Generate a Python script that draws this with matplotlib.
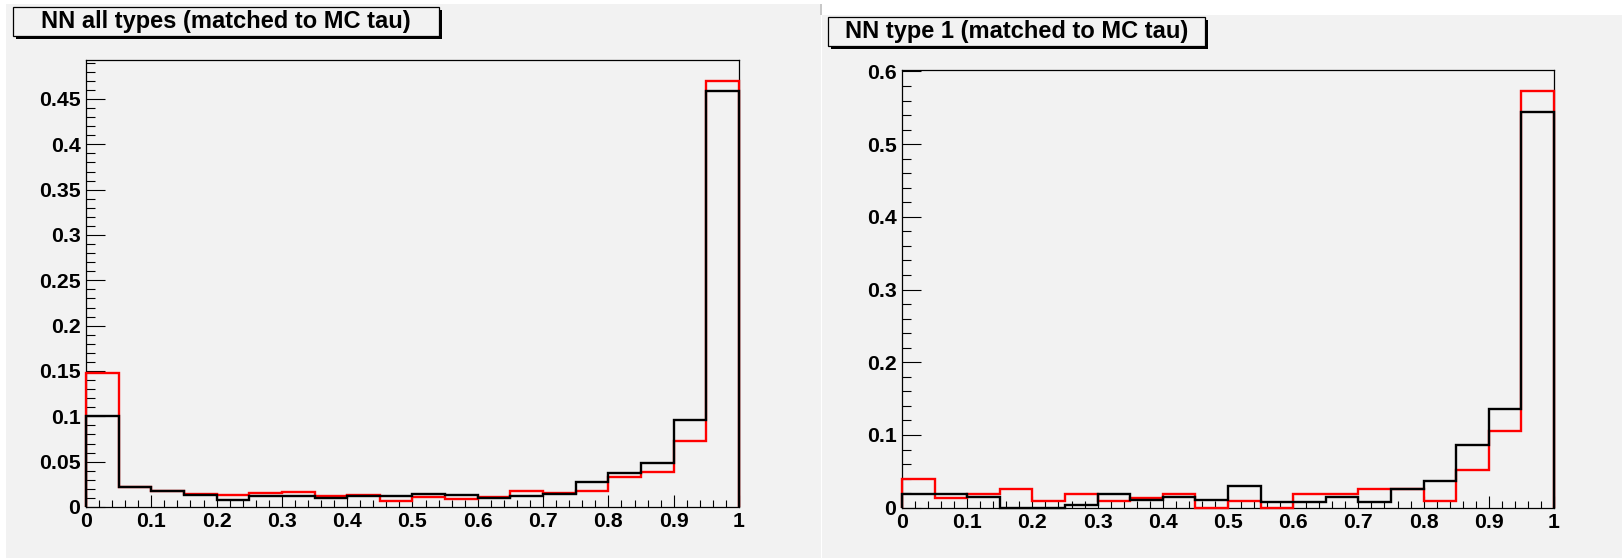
import numpy as np
import matplotlib
matplotlib.use("Agg")
import matplotlib.pyplot as plt
from matplotlib.patches import Rectangle
from matplotlib.ticker import MultipleLocator, FixedLocator

plt.rcParams['font.family'] = ['Liberation Sans', 'DejaVu Sans']
plt.rcParams['font.weight'] = 'bold'

# ---- data ----
bin_edges = np.linspace(0.0, 1.0, 21)

left_title = "NN all types (matched to MC tau)"
left_red = [0.148, 0.022, 0.0176, 0.0143, 0.0132, 0.0158, 0.0169, 0.0121, 0.0132, 0.0063,
            0.0114, 0.0088, 0.0114, 0.0176, 0.0151, 0.0176, 0.0331, 0.0390, 0.0728, 0.470]
left_black = [0.100, 0.0224, 0.0173, 0.0132, 0.0074, 0.0118, 0.0118, 0.0103, 0.0121, 0.0121,
              0.0147, 0.0134, 0.0096, 0.0118, 0.0147, 0.0279, 0.0378, 0.0489, 0.0959, 0.459]
left_yticks = [0, 0.05, 0.1, 0.15, 0.2, 0.25, 0.3, 0.35, 0.4, 0.45]
left_ylabels = ["0", "0.05", "0.1", "0.15", "0.2", "0.25", "0.3", "0.35", "0.4", "0.45"]

right_title = "NN type 1 (matched to MC tau)"
right_red = [0.0395, 0.0129, 0.0193, 0.0261, 0.0096, 0.0193, 0.0096, 0.0129, 0.0193, 0.0,
             0.0096, 0.0, 0.0193, 0.0193, 0.0261, 0.0261, 0.0096, 0.0519, 0.1055, 0.573]
right_black = [0.0188, 0.0188, 0.0151, 0.0, 0.0, 0.0037, 0.0188, 0.0110, 0.0143, 0.0110,
               0.0298, 0.0074, 0.0074, 0.0147, 0.0074, 0.0261, 0.0371, 0.0862, 0.1353, 0.544]
right_yticks = [0, 0.1, 0.2, 0.3, 0.4, 0.5, 0.6]
right_ylabels = ["0", "0.1", "0.2", "0.3", "0.4", "0.5", "0.6"]

xticks = [0, 0.1, 0.2, 0.3, 0.4, 0.5, 0.6, 0.7, 0.8, 0.9, 1.0]
xlabels = ["0", "0.1", "0.2", "0.3", "0.4", "0.5", "0.6", "0.7", "0.8", "0.9", "1"]

# ---- layout ----
W, H = 1622, 558
fig = plt.figure(figsize=(W / 100, H / 100), dpi=100)
fig.patch.set_facecolor("white")
PAD = "#f2f2f2"


def frect(x0, y0, x1, y1):
    """pixel box (top-left origin) -> figure fraction (x, y, w, h)"""
    return x0 / W, 1 - y1 / H, (x1 - x0) / W, (y1 - y0) / H


def add_rect(x0, y0, x1, y1, **kw):
    x, y, w, h = frect(x0, y0, x1, y1)
    r = Rectangle((x, y), w, h, transform=fig.transFigure, **kw)
    fig.patches.append(r)
    return r


# pads
add_rect(6, 4, 821, 558, facecolor=PAD, edgecolor="none", zorder=-10)
add_rect(820.5, 4, 821.5, 15, facecolor="#c8c8c8", edgecolor="none", zorder=-10)
add_rect(822, 15, 1622, 558, facecolor=PAD, edgecolor="none", zorder=-10)


def title_box(x0, y0, x1, y1, text, fs):
    add_rect(x0 + 3, y0 + 3, x1 + 3, y1 + 3, facecolor="black", edgecolor="none", zorder=5)
    add_rect(x0, y0, x1, y1, facecolor=PAD, edgecolor="black", linewidth=0.9, zorder=6)
    fig.text((x0 + x1) / 2 / W, 1 - (y0 + y1) / 2 / H, text, ha="center", va="center",
             fontsize=fs, fontweight="bold", color="black", zorder=7)


def make_axes(box, ylim, yticks, ylabels, ymajor_len, yminor_step, red, black):
    ax = fig.add_axes(frect(*box))
    ax.set_zorder(1)
    ax.set_facecolor(PAD)
    ax.set_xlim(0, 1)
    ax.set_ylim(*ylim)
    ax.stairs(red, bin_edges, baseline=0, color="#ff0000", linewidth=1.7, clip_on=False, zorder=3)
    ax.stairs(black, bin_edges, baseline=0, color="black", linewidth=1.7, clip_on=False, zorder=4)
    ax.xaxis.set_major_locator(FixedLocator(xticks))
    ax.set_xticklabels(xlabels)
    ax.xaxis.set_minor_locator(MultipleLocator(0.02))
    ax.yaxis.set_major_locator(FixedLocator(yticks))
    ax.set_yticklabels(ylabels)
    ax.yaxis.set_minor_locator(MultipleLocator(yminor_step))
    ax.tick_params(axis="both", which="both", direction="in", top=False, right=False,
                   width=0.8, colors="black", labelsize=15.3)
    ax.tick_params(axis="x", which="major", length=9, pad=3.5)
    ax.tick_params(axis="x", which="minor", length=5)
    ax.tick_params(axis="y", which="major", length=ymajor_len, pad=4)
    ax.tick_params(axis="y", which="minor", length=6.5)
    for lab in ax.get_xticklabels() + ax.get_yticklabels():
        lab.set_fontweight("bold")
    for s in ax.spines.values():
        s.set_linewidth(0.9)
        s.set_color("black")
    return ax


make_axes((86, 60, 739, 507), (0, 0.493), left_yticks, left_ylabels, 13.5, 0.01,
          left_red, left_black)
make_axes((902, 70, 1554, 507.7), (0, 0.602), right_yticks, right_ylabels, 13.5, 0.02,
          right_red, right_black)

title_box(13, 7, 439, 36, left_title, 17)
title_box(828, 17, 1205, 46, right_title, 17)

fig.savefig("out.png", dpi=100, facecolor=fig.get_facecolor())
